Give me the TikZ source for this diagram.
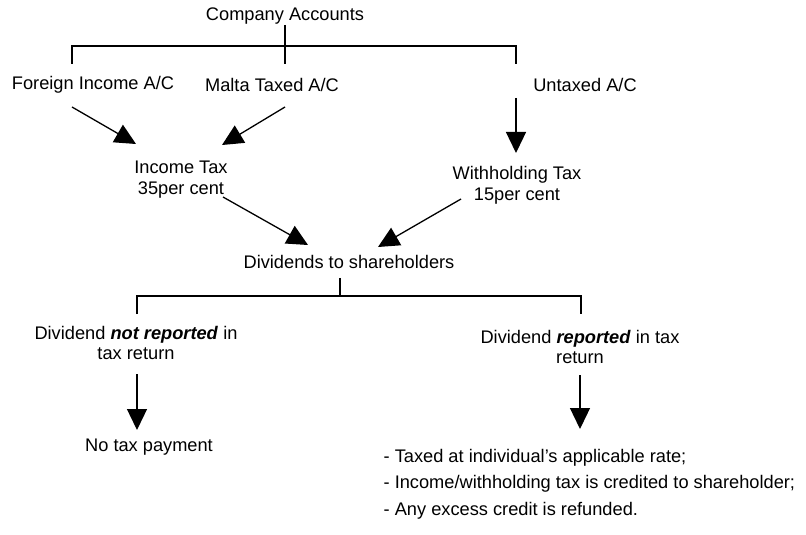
\documentclass[tikz,border=0pt]{standalone}
\usepackage{fontspec}
\setmainfont{Liberation Sans}
\usetikzlibrary{arrows.meta}

\begin{document}
\begin{tikzpicture}[x=1bp, y=-1bp, line width=1.3bp,
    txt/.style={inner sep=0pt, align=center, font=\fontsize{18.3}{21}\selectfont},
    arr/.style={-{Triangle[length=21bp, width=20bp]}}]

    \useasboundingbox (0,0) rectangle (806,535);

    \def\ytop{46}
    \def\ybot{296}

    % --- Accounts ---
    \node[txt] (comp) at (285,16) {Company Accounts};
    \node[txt] (fia) at (93,85) {Foreign Income A/C};
    \node[txt] (mta) at (272,85) {Malta Taxed A/C};
    \node[txt] (uta) at (585,85) {Untaxed A/C};

    % Company bracket
    \coordinate (fl) at (72,64);
    \coordinate (fr) at (516,64);
    \coordinate (fm) at (285,64);
    \draw (comp.south) -- (fm);
    \draw (fl) -- (72,\ytop) -| (fr);

    % --- Taxes ---
    \node[txt] (itax) at (181,180) {Income Tax\\35per cent};
    \node[txt] (wtax) at (517,185) {Withholding Tax\\15per cent};

    \draw[arr] ([shift={(-21,22)}]fia.center) -- ([shift={(-45,-36)}]itax.center);
    \draw[arr] ([shift={(13,22)}]mta.center) -- ([shift={(41,-35)}]itax.center);
    \draw[arr] ([shift={(-69,13)}]uta.center) -- ([shift={(-1,-32)}]wtax.center);

    % --- Dividends ---
    \node[txt] (div) at (349,262) {Dividends to shareholders};

    \draw[arr] ([shift={(42,17)}]itax.center) -- ([shift={(-41,-17)}]div.center);
    \draw[arr] ([shift={(-56,14)}]wtax.center) -- ([shift={(29,-15)}]div.center);

    % Dividend bracket
    \coordinate (dl) at (137,314);
    \coordinate (dr) at (581,314);
    \coordinate (dm) at (340,\ybot);
    \draw ([shift={(-9,16)}]div.center) -- (dm);
    \draw (dl) -- (137,\ybot) -| (dr);

    % --- Shareholders ---
    \node[txt] (nrep) at (136,343) {Dividend \textbf{\textit{not reported}} in\\tax return};
    \node[txt] (rep) at (580,347) {Dividend \textbf{\textit{reported}} in tax\\return};
    \node[txt] (notax) at (149,447) {No tax payment};
    \node[txt, align=left, anchor=west, font=\fontsize{18.3}{26.5}\selectfont] (list) at (383,484)
        {- Taxed at individual’s applicable rate;\\
         - Income/withholding tax is credited to shareholder;\\
         - Any excess credit is refunded.};

    \draw[arr] ([shift={(1,31)}]nrep.center) -- ([shift={(-12,-17)}]notax.center);
    \draw[arr] ([shift={(0,28)}]rep.center) -- ([shift={(197,-55)}]list.west);

\end{tikzpicture}
\end{document}
